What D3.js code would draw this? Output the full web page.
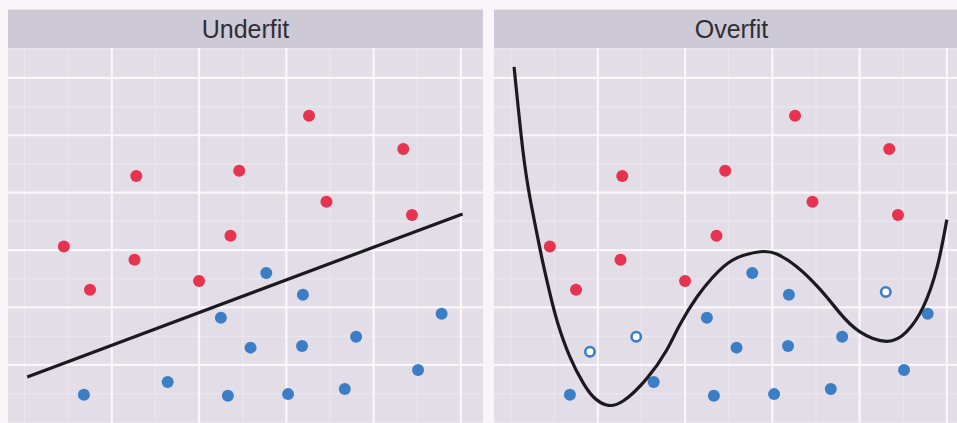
<!DOCTYPE html>
<html>
<head>
<meta charset="utf-8">
<script src="https://cdn.jsdelivr.net/npm/d3@7"></script>
<style>
    html, body { margin: 0; padding: 0; background: #f8f5f8; }
    svg { display: block; }
</style>
</head>
<body>
<svg id="viz_svg01" width="957" height="423"></svg>
<script>
// Panel titles.
const panelTitles = ["Underfit", "Overfit"];

// Class 1 (red) points.
const redX = [3.26, 4.34, 1.28, 2.46, 3.46, 4.44, 0.45, 2.36, 1.26, 0.75, 2.00];
const redY = [4.34, 3.76, 3.29, 3.38, 2.84, 2.61, 2.06, 2.25, 1.83, 1.31, 1.46];

// Class 2 (blue) points.
const blueX = [2.77, 3.19, 2.25, 4.78, 3.80, 2.59, 3.18, 4.51, 1.64, 0.68, 2.33, 3.02, 3.67];
const blueY = [1.60, 1.22, 0.82, 0.89, 0.49, 0.30, 0.33, -0.09, -0.30, -0.52, -0.54, -0.51, -0.42];

// Hollow blue points, only shown in the overfit panel.
const hollowX = [0.91, 1.44, 4.30];
const hollowY = [0.23, 0.49, 1.27];

// The straight boundary of the underfit model.
const underfitX = [0.03, 5.02];
const underfitY = [-0.21, 2.63];

// The wiggly boundary of the overfit model.
const overfitX = [0.04, 0.14, 0.22, 0.30, 0.37, 0.45, 0.54, 0.68, 0.83, 0.95, 1.10, 1.29, 1.56, 1.79, 1.94,
                  2.14, 2.32, 2.55, 2.86, 3.05, 3.28, 3.55, 3.77, 4.00, 4.31, 4.54, 4.73, 4.89, 5.00];
const overfitY = [5.19, 3.75, 2.93, 2.30, 1.78, 1.25, 0.73, 0.14, -0.31, -0.56, -0.70, -0.63, -0.24, 0.26, 0.70,
                  1.19, 1.53, 1.83, 1.97, 1.93, 1.71, 1.31, 0.91, 0.58, 0.41, 0.58, 1.01, 1.71, 2.53];

// Grid breaks.
const majorX = [1, 2, 3, 4, 5];
const minorX = [0, 0.5, 1.5, 2.5, 3.5, 4.5];
const majorY = [0, 1, 2, 3, 4, 5];
const minorY = [-1, -0.5, 0.5, 1.5, 2.5, 3.5, 4.5, 5.5];

// ChartSpecs holds the layout parameters and the scales.
class ChartSpecs {
    constructor(){
        // Position of the panels.
        this.panelLeft = [8, 494];
        this.panelWidth = 475;
        this.stripTop = 9.5;
        this.stripHeight = 38.5;
        this.panelTop = this.stripTop + this.stripHeight;
        this.panelHeight = 392;

        // Marks.
        this.pointRadius = 6;
        this.lineWidth = 3.2;

        // Colours.
        this.stripFill = "#cdcad6";
        this.panelFill = "#e2dde6";
        this.majorGrid = "#f9f7fa";
        this.minorGrid = "#ebe7ee";
        this.red = "#e6334f";
        this.blue = "#3b7ec6";

        this.scaleX = d3.scaleLinear()
            .domain([-0.19, 5.254])
            .range([0, this.panelWidth]);
        this.scaleY = d3.scaleLinear()
            .domain([5.52, 5.52 - this.panelHeight / 57.4])
            .range([0, this.panelHeight]);
    }
}

document.addEventListener("DOMContentLoaded", function(){
    let svg = d3.select("#viz_svg01");
    let specs = new ChartSpecs();

    panelTitles.forEach((title, i) => drawPanel(svg, specs, i, title));
});

// drawPanel draws one facet: strip, grid, points and the model line.
function drawPanel(svg, specs, i, title){
    let sx = specs.scaleX, sy = specs.scaleY;

    // Strip with the title.
    let strip = svg.append("g")
        .attr("transform", `translate(${specs.panelLeft[i]}, ${specs.stripTop})`);
    strip.append("rect")
        .attr("width", specs.panelWidth)
        .attr("height", specs.stripHeight)
        .style("fill", specs.stripFill);
    strip.append("text")
        .attr("x", specs.panelWidth / 2)
        .attr("y", specs.stripHeight / 2 + 9)
        .attr("text-anchor", "middle")
        .text(title)
        .style("font-family", "'Liberation Sans', Arial, sans-serif")
        .style("font-size", "25px")
        .style("fill", "#2f2e36");

    // Panel body, clipped.
    let clipId = "clip" + i;
    svg.append("clipPath")
        .attr("id", clipId)
        .append("rect")
        .attr("width", specs.panelWidth)
        .attr("height", specs.panelHeight);

    let body = svg.append("g")
        .attr("transform", `translate(${specs.panelLeft[i]}, ${specs.panelTop})`)
        .attr("clip-path", `url(#${clipId})`);

    body.append("rect")
        .attr("width", specs.panelWidth)
        .attr("height", specs.panelHeight)
        .style("fill", specs.panelFill);

    // Minor grid first, then the major grid on top.
    body.selectAll(".minorV").data(minorX).enter().append("line")
        .attr("x1", d => sx(d)).attr("x2", d => sx(d))
        .attr("y1", 0).attr("y2", specs.panelHeight)
        .style("stroke", specs.minorGrid).style("stroke-width", 1.2);
    body.selectAll(".minorH").data(minorY).enter().append("line")
        .attr("x1", 0).attr("x2", specs.panelWidth)
        .attr("y1", d => sy(d)).attr("y2", d => sy(d))
        .style("stroke", specs.minorGrid).style("stroke-width", 1.2);
    body.selectAll(".majorV").data(majorX).enter().append("line")
        .attr("x1", d => sx(d)).attr("x2", d => sx(d))
        .attr("y1", 0).attr("y2", specs.panelHeight)
        .style("stroke", specs.majorGrid).style("stroke-width", 2.2);
    body.selectAll(".majorH").data(majorY).enter().append("line")
        .attr("x1", 0).attr("x2", specs.panelWidth)
        .attr("y1", d => sy(d)).attr("y2", d => sy(d))
        .style("stroke", specs.majorGrid).style("stroke-width", 2.2);

    // Points.
    let reds = redX.map((x, k) => ({x: x, y: redY[k]}));
    let blues = blueX.map((x, k) => ({x: x, y: blueY[k]}));

    body.selectAll(".red").data(reds).enter().append("circle")
        .attr("cx", d => sx(d.x)).attr("cy", d => sy(d.y))
        .attr("r", specs.pointRadius)
        .style("fill", specs.red);
    body.selectAll(".blue").data(blues).enter().append("circle")
        .attr("cx", d => sx(d.x)).attr("cy", d => sy(d.y))
        .attr("r", specs.pointRadius)
        .style("fill", specs.blue);

    let line = d3.line()
        .x(d => sx(d.x))
        .y(d => sy(d.y));

    if(i === 0){
        let pts = underfitX.map((x, k) => ({x: x, y: underfitY[k]}));
        body.append("path")
            .datum(pts)
            .attr("d", line)
            .style("fill", "none")
            .style("stroke", "#1b1b1f")
            .style("stroke-width", specs.lineWidth);
    } else {
        let hollows = hollowX.map((x, k) => ({x: x, y: hollowY[k]}));
        body.selectAll(".hollow").data(hollows).enter().append("circle")
            .attr("cx", d => sx(d.x)).attr("cy", d => sy(d.y))
            .attr("r", specs.pointRadius - 1.3)
            .style("fill", "#ffffff")
            .style("stroke", specs.blue)
            .style("stroke-width", 2.6);

        let pts = overfitX.map((x, k) => ({x: x, y: overfitY[k]}));
        body.append("path")
            .datum(pts)
            .attr("d", line.curve(d3.curveNatural))
            .style("fill", "none")
            .style("stroke", "#1b1b1f")
            .style("stroke-width", specs.lineWidth);
    }
}
</script>
</body>
</html>
